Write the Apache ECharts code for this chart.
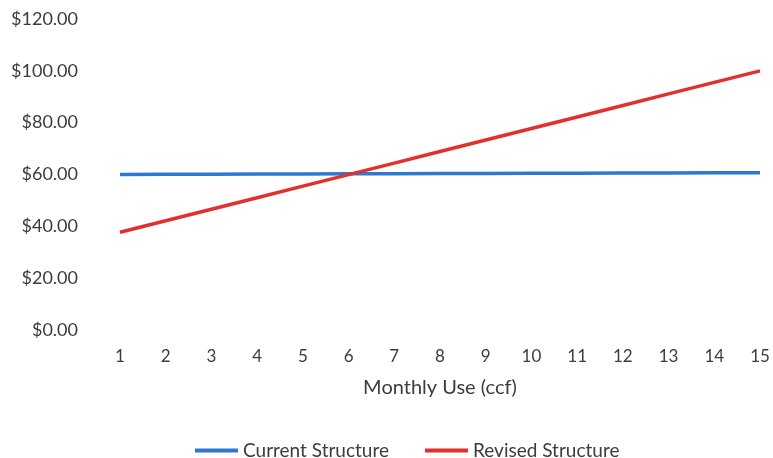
<!DOCTYPE html>
<html>
<head>
<meta charset="utf-8">
<script src="https://cdn.jsdelivr.net/npm/echarts@6/dist/echarts.min.js"></script>
<style>
  html, body { margin: 0; padding: 0; background: #fff; }
  #chart { width: 773px; height: 458px; }
</style>
</head>
<body>
<div id="chart"></div>
<script>
// Monthly bill under each rate structure, by monthly water use
const usage = ['1', '2', '3', '4', '5', '6', '7', '8', '9', '10', '11', '12', '13', '14', '15'];
const currentStructure = [60.00, 60.05, 60.10, 60.15, 60.20, 60.25, 60.30, 60.35, 60.40, 60.45, 60.50, 60.55, 60.60, 60.65, 60.70];
const revisedStructure = [37.70, 42.15, 46.60, 51.05, 55.50, 59.95, 64.40, 68.85, 73.30, 77.75, 82.20, 86.65, 91.10, 95.55, 100.00];
const seriesNames = ['Current Structure', 'Revised Structure'];
const xAxisTitle = 'Monthly Use (ccf)';

const textColor = '#3c3c3c';
const font = 'Lato, "Open Sans", sans-serif';

const chart = echarts.init(document.getElementById('chart'));
chart.setOption({
  animation: false,
  backgroundColor: '#ffffff',
  grid: { left: 120, right: 13, top: 19, bottom: 128 },
  legend: {
    left: 195,
    top: 441,
    padding: 0,
    itemWidth: 43,
    itemHeight: 4,
    itemGap: 36,
    icon: 'rect',
    textStyle: { color: textColor, fontFamily: font, fontSize: 19 },
    data: seriesNames
  },
  xAxis: {
    type: 'category',
    data: usage,
    boundaryGap: false,
    name: xAxisTitle,
    nameLocation: 'middle',
    nameGap: 48,
    nameTextStyle: { color: textColor, fontFamily: font, fontSize: 20 },
    axisLine: { show: false },
    axisTick: { show: false },
    axisLabel: { color: textColor, fontFamily: font, fontSize: 17, margin: 18 },
    splitLine: { show: false }
  },
  yAxis: {
    type: 'value',
    min: 0,
    max: 120,
    interval: 20,
    axisLine: { show: false },
    axisTick: { show: false },
    splitLine: { show: false },
    axisLabel: {
      color: textColor, fontFamily: font, fontSize: 18, margin: 42,
      formatter: v => '$' + v.toFixed(2)
    }
  },
  series: [
    {
      name: seriesNames[0],
      type: 'line',
      data: currentStructure,
      symbol: 'none',
      lineStyle: { width: 3.5, color: '#2f78d2' },
      itemStyle: { color: '#2f78d2' }
    },
    {
      name: seriesNames[1],
      type: 'line',
      data: revisedStructure,
      symbol: 'none',
      lineStyle: { width: 3.5, color: '#e0312e' },
      itemStyle: { color: '#e0312e' }
    }
  ]
});
</script>
</body>
</html>
